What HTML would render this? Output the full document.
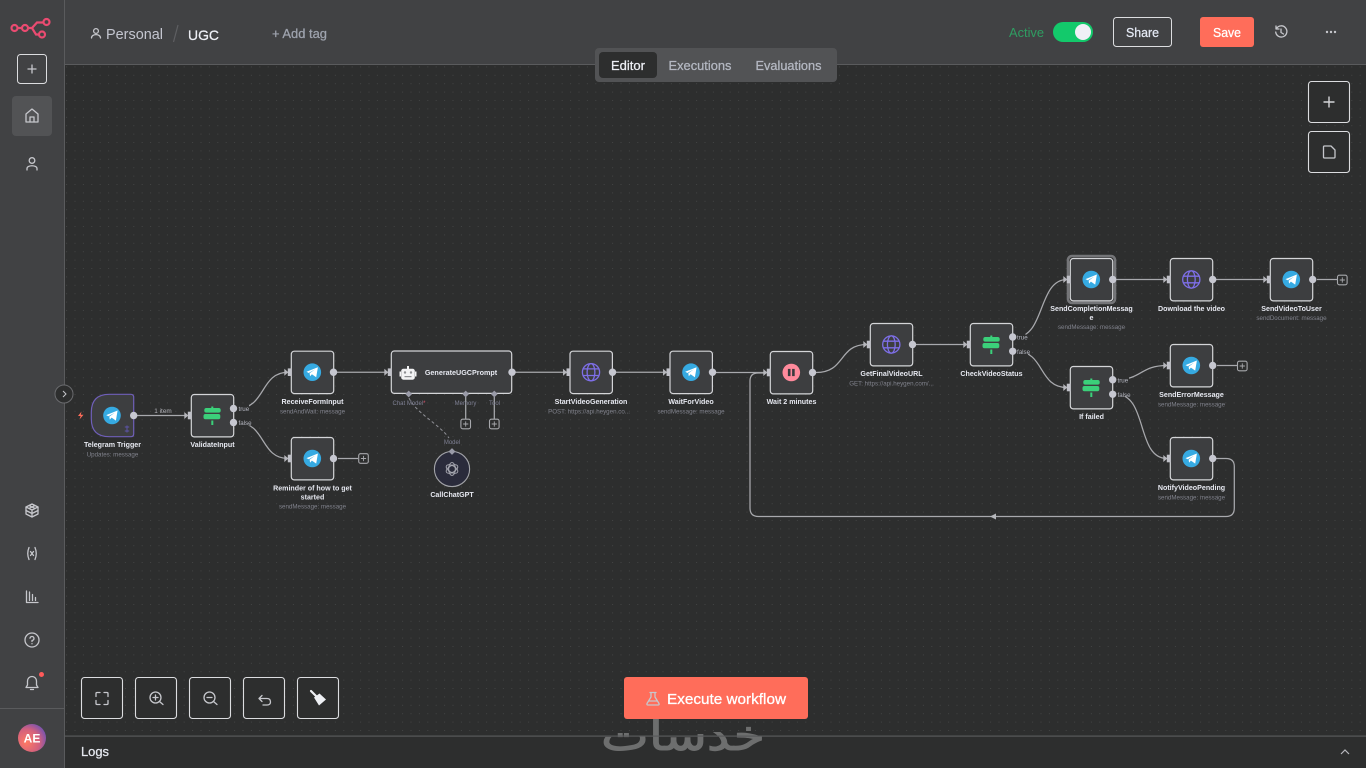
<!DOCTYPE html>
<html lang="en">
<head>
<meta charset="utf-8">
<title>UGC workflow</title>
<style>
html,body{margin:0;padding:0;background:#2d2e2e;width:1366px;height:768px;overflow:hidden}
svg{display:block;font-family:"Liberation Sans",sans-serif}
.t{font-size:7.1px;font-weight:700;fill:#e6e8f0;text-anchor:middle}
.s{font-size:6.2px;fill:#80828c;text-anchor:middle}
.o{font-size:6.2px;fill:#b6b8c2}
.h{font-size:6px;fill:#7f8094;text-anchor:middle}
.c{fill:none;stroke:#a8a9ad;stroke-width:1.25}
.b{fill:#2d2e2e;stroke:#dcdde0;stroke-width:1.1}
.i{fill:none;stroke:#c6c7cc;stroke-width:1.3;stroke-linecap:round;stroke-linejoin:round}
.m{stroke-width:.25}
</style>
</head>
<body>
<svg width="1366" height="768" viewBox="0 0 1366 768" xmlns="http://www.w3.org/2000/svg">
<defs>
<pattern id="dots" x="7.3" y="7.6" width="8.4" height="8.4" patternUnits="userSpaceOnUse"><circle cx="0.5" cy="0.5" r="0.5" fill="#4b4c4c"/></pattern>
<radialGradient id="av" cx="30%" cy="65%" r="85%"><stop offset="0" stop-color="#ff7a62"/><stop offset=".55" stop-color="#d2607e"/><stop offset="1" stop-color="#5a4fc0"/></radialGradient>
<g id="node"><rect x="-21" y="-21" width="42.4" height="42.4" rx="3" fill="#3d3e40" stroke="#d4d5d8" stroke-width="1.2"/></g>
<g id="inp"><path d="M-28 -3.500 L-24 0 L-28 3.500Z" fill="#b5b6bb"/><rect x="-24.500" y="-3.800" width="3.800" height="7.600" fill="#c0c1c8"/></g>
<g id="tg"><circle r="8.8" fill="#36aae2"/><path d="M-5.800 -.4 L5.600 -5 L3.900 5.100 L-.4 2.100 L-2.200 4.100 L-2.700 1.100 L2.900 -2.900 L-3.600 .8Z" fill="#fff"/></g>
<g id="web"><g fill="none" stroke="#7e6fe8" stroke-width="1.3"><circle r="8.6"/><ellipse rx="3.900" ry="8.6"/><path d="M-7.800 -3.300H7.800M-7.800 3.300H7.800"/></g></g>
<g id="sw"><g fill="#3bd07a"><rect x="-8" y="-7.500" width="16.400" height="4.600" rx="2"/><rect x="-8.800" y="-1.500" width="16.800" height="5.200" rx="2"/><rect x="-1" y="-9" width="2" height="2"/><rect x="-1" y="5" width="2" height="4.500"/></g></g>
<g id="plus"><rect x="-4.800" y="-4.800" width="9.600" height="9.600" rx="1.800" fill="#2d2e2e" stroke="#a7a8ac" stroke-width="1.100"/><path d="M-2.600 0H2.600M0 -2.600V2.600" stroke="#a7a8ac" stroke-width=".9"/></g>
<g id="out"><circle r="3.700" fill="#c6c7d0"/></g>
<g id="dia"><path d="M0 -3.400L3.400 0L0 3.400L-3.400 0Z" fill="#9a9ba8"/></g>
</defs>

<!-- canvas -->
<rect width="1366" height="768" fill="#2d2e2e"/>
<rect x="65" y="65" width="1301" height="671" fill="url(#dots)"/>

<!-- connectors -->
<g class="c">
<path d="M137 415.500H187"/>
<path d="M237 408.500C266 408.500 260 372.200 288 372.200"/>
<path d="M237 422.500C266 422.500 260 458.500 288 458.500"/>
<path d="M338 458.500H358"/>
<path d="M337 372.200H388"/>
<path d="M515 372.200H567"/>
<path d="M615 372.200H667"/>
<path d="M715 372.500H767"/>
<path d="M816 372.500C846 372.500 838 344.500 867 344.500"/>
<path d="M916 344.500H967"/>
<path d="M1016 337C1045 337 1038 279.500 1067 279.500"/>
<path d="M1016 351.300C1045 351.300 1038 387.500 1067 387.500"/>
<path d="M1116 279.500H1167"/>
<path d="M1216 279.500H1267"/>
<path d="M1317 279.500H1337"/>
<path d="M1116 379.700C1142 379.700 1140 365.500 1167 365.500"/>
<path d="M1217 365.500H1237"/>
<path d="M1116 394.300C1148 394.300 1136 458.500 1167 458.500"/>
<path d="M1216 458.500H1226Q1234.300 458.500 1234.300 466.500V508Q1234.300 516.500 1226 516.500H758.500Q750 516.500 750 508V381Q750 373 758 373H766"/>
<path d="M465.700 397V419M494.300 397V419"/>
<path d="M409 398C415 412 440 425 449 438" stroke-dasharray="3 2.500" stroke="#8f9096" stroke-width="1"/>
</g>
<path d="M996 513.500L990 516.500L996 519.500Z" fill="#b5b6bb"/>

<!-- Telegram Trigger -->
<path d="M109.300 394.300H130.700Q133.700 394.300 133.700 397.300V433.700Q133.700 436.700 130.700 436.700H109.300Q91.300 436.700 91.300 418.700V412.300Q91.300 394.300 109.300 394.300Z" fill="#3d3e40" stroke="#6f5fb8" stroke-width="1.200"/>
<use href="#tg" x="112" y="415.500"/>
<use href="#out" x="133.700" y="415.500"/>
<path d="M127 425.500V432.500M124.800 427H129.200M124.800 431H129.200" stroke="#5d54a8" stroke-width="1"/>
<path d="M81.500 411.500L78 416H80.600L79.500 419.500L83.500 414.700H80.800Z" fill="#ff6d5a"/>
<text class="t" x="112.500" y="447">Telegram Trigger</text>
<text class="s" x="112.500" y="456.500">Updates: message</text>
<text x="163" y="413" font-size="6.400" fill="#b5b6bc" text-anchor="middle">1 item</text>

<!-- ValidateInput -->
<g transform="translate(212.300,415.500)"><use href="#node"/><use href="#inp"/><use href="#sw"/></g>
<rect x="237" y="405" width="12" height="6.500" fill="#2d2e2e"/><rect x="237" y="419" width="13" height="6.500" fill="#2d2e2e"/>
<use href="#out" x="233.500" y="408.500"/><use href="#out" x="233.500" y="422.500"/>
<text class="o" x="238.500" y="411">true</text><text class="o" x="238.500" y="425">false</text>
<text class="t" x="212.500" y="447">ValidateInput</text>

<!-- ReceiveFormInput -->
<g transform="translate(312.300,372.200)"><use href="#node"/><use href="#inp"/><use href="#tg"/></g>
<use href="#out" x="333.500" y="372.200"/>
<text class="t" x="312.500" y="404">ReceiveFormInput</text>
<text class="s" x="312.500" y="413.500">sendAndWait: message</text>

<!-- Reminder -->
<g transform="translate(312.300,458.500)"><use href="#node"/><use href="#inp"/><use href="#tg"/></g>
<use href="#out" x="333.500" y="458.500"/><use href="#plus" x="363.500" y="458.500"/>
<text class="t" x="312.500" y="490.500">Reminder of how to get</text>
<text class="t" x="312.500" y="499.500">started</text>
<text class="s" x="312.500" y="508.500">sendMessage: message</text>

<!-- GenerateUGCPrompt -->
<rect x="391.300" y="351" width="120.400" height="42.400" rx="3" fill="#3d3e40" stroke="#d4d5d8" stroke-width="1.200"/>
<use href="#inp" x="412.300" y="372.200"/>
<g transform="translate(408,373.500)" fill="#f2f2f4">
<rect x="-6.800" y="-4.800" width="13.600" height="11" rx="2.200"/><rect x="-8.500" y="-2" width="1.500" height="5"/><rect x="7" y="-2" width="1.500" height="5"/><rect x="-1" y="-7.500" width="2" height="3"/>
<circle cx="-3" cy="-1" r="1.200" fill="#8d8e92"/><circle cx="3" cy="-1" r="1.200" fill="#8d8e92"/><rect x="-3.500" y="2.500" width="7" height="1.200" fill="#8d8e92"/>
</g>
<text x="461" y="375" font-size="7.200" font-weight="700" fill="#e6e8f0" text-anchor="middle">GenerateUGCPrompt</text>
<use href="#out" x="512" y="372.200"/>
<use href="#dia" x="408.700" y="394"/><use href="#dia" x="465.700" y="394"/><use href="#dia" x="494.300" y="394"/>
<text class="h" x="409" y="405">Chat Model<tspan fill="#e0566e">*</tspan></text>
<text class="h" x="465.500" y="405">Memory</text>
<text class="h" x="494.500" y="405">Tool</text>
<use href="#plus" x="465.700" y="424"/><use href="#plus" x="494.300" y="424"/>

<!-- CallChatGPT -->
<circle cx="452" cy="469" r="17.600" fill="#2a2b3b" stroke="#a2a3a8" stroke-width="1.100"/>
<g fill="none" stroke="#a8a9b2" stroke-width=".9"><circle cx="452" cy="469" r="3.400"/><ellipse cx="452" cy="469" rx="6.400" ry="3.400" transform="rotate(30 452 469)"/><ellipse cx="452" cy="469" rx="6.400" ry="3.400" transform="rotate(-30 452 469)"/><ellipse cx="452" cy="469" rx="6.400" ry="3.400" transform="rotate(90 452 469)"/></g>
<use href="#dia" x="452" y="451.500"/>
<text class="h" x="452" y="444">Model</text>
<text class="t" x="452" y="497">CallChatGPT</text>

<!-- StartVideoGeneration -->
<g transform="translate(591,372.200)"><use href="#node"/><use href="#inp"/><use href="#web"/></g>
<use href="#out" x="612.500" y="372.200"/>
<text class="t" x="591" y="404">StartVideoGeneration</text>
<text class="s" x="589" y="413.500">POST: https://api.heygen.co...</text>

<!-- WaitForVideo -->
<g transform="translate(691,372.200)"><use href="#node"/><use href="#inp"/><use href="#tg"/></g>
<use href="#out" x="712.500" y="372.200"/>
<text class="t" x="691" y="404">WaitForVideo</text>
<text class="s" x="691" y="413.500">sendMessage: message</text>

<!-- Wait 2 minutes -->
<g transform="translate(791.300,372.500)"><use href="#node"/><use href="#inp"/><circle r="8.800" fill="#ff8a9c"/><rect x="-3.400" y="-3.600" width="2.600" height="7.200" fill="#3a3a3e"/><rect x=".8" y="-3.600" width="2.600" height="7.200" fill="#3a3a3e"/></g>
<use href="#out" x="812.500" y="372.500"/>
<text class="t" x="791.500" y="404">Wait 2 minutes</text>

<!-- GetFinalVideoURL -->
<g transform="translate(891.300,344.500)"><use href="#node"/><use href="#inp"/><use href="#web"/></g>
<use href="#out" x="912.500" y="344.500"/>
<text class="t" x="891.500" y="376">GetFinalVideoURL</text>
<text class="s" x="891.500" y="385.500">GET: https://api.heygen.com/...</text>

<!-- CheckVideoStatus -->
<g transform="translate(991.300,344.500)"><use href="#node"/><use href="#inp"/><use href="#sw"/></g>
<rect x="1016" y="333.500" width="9.500" height="6.500" fill="#2d2e2e"/><rect x="1016" y="348" width="12" height="6.500" fill="#2d2e2e"/>
<use href="#out" x="1012.700" y="337"/><use href="#out" x="1012.700" y="351.300"/>
<text class="o" x="1017" y="339.500">true</text><text class="o" x="1017" y="354">false</text>
<text class="t" x="991.500" y="376">CheckVideoStatus</text>

<!-- SendCompletionMessage -->
<rect x="1068" y="256" width="47" height="47" rx="4" fill="none" stroke="#747578" stroke-width="2.600"/>
<g transform="translate(1091.300,279.500)"><use href="#node"/><use href="#inp"/><use href="#tg"/></g>
<use href="#out" x="1112.700" y="279.500"/>
<text class="t" x="1091.500" y="311">SendCompletionMessag</text>
<text class="t" x="1091.500" y="320">e</text>
<text class="s" x="1091.500" y="329">sendMessage: message</text>

<!-- Download the video -->
<g transform="translate(1191.300,279.500)"><use href="#node"/><use href="#inp"/><use href="#web"/></g>
<use href="#out" x="1212.700" y="279.500"/>
<text class="t" x="1191.500" y="311">Download the video</text>

<!-- SendVideoToUser -->
<g transform="translate(1291.300,279.500)"><use href="#node"/><use href="#inp"/><use href="#tg"/></g>
<use href="#out" x="1312.700" y="279.500"/><use href="#plus" x="1342.300" y="280"/>
<text class="t" x="1291.500" y="311">SendVideoToUser</text>
<text class="s" x="1291.500" y="320">sendDocument: message</text>

<!-- If failed -->
<g transform="translate(1091.300,387.500)"><use href="#node"/><use href="#inp"/><use href="#sw"/></g>
<rect x="1116" y="376.500" width="13" height="6.500" fill="#2d2e2e"/><rect x="1116" y="391" width="9" height="6.500" fill="#2d2e2e"/>
<use href="#out" x="1112.700" y="379.700"/><use href="#out" x="1112.700" y="394.300"/>
<text class="o" x="1117.500" y="382.500">true</text><text class="o" x="1117.500" y="397">false</text>
<text class="t" x="1091.500" y="419">If failed</text>

<!-- SendErrorMessage -->
<g transform="translate(1191.300,365.500)"><use href="#node"/><use href="#inp"/><use href="#tg"/></g>
<use href="#out" x="1212.700" y="365.500"/><use href="#plus" x="1242.300" y="366"/>
<text class="t" x="1191.500" y="397">SendErrorMessage</text>
<text class="s" x="1191.500" y="406.500">sendMessage: message</text>

<!-- NotifyVideoPending -->
<g transform="translate(1191.300,458.500)"><use href="#node"/><use href="#inp"/><use href="#tg"/></g>
<use href="#out" x="1212.700" y="458.500"/>
<text class="t" x="1191.500" y="490">NotifyVideoPending</text>
<text class="s" x="1191.500" y="499.500">sendMessage: message</text>

<!-- header -->
<rect x="65" y="0" width="1301" height="64.500" fill="#414244"/>
<rect x="65" y="64" width="1301" height="1" fill="#5a5b5d"/>
<g class="i" stroke="#b4b5ba" stroke-width="1"><circle cx="96" cy="31" r="2.400"/><path d="M91.500 38C91.500 33.500 100.500 33.500 100.500 38"/></g>
<text x="106" y="39" font-size="14.300" fill="#c4c6d0" textLength="57" lengthAdjust="spacingAndGlyphs">Personal</text>
<path d="M173.500 42L178 25" stroke="#5e5f62" stroke-width="1.200"/>
<text x="188" y="40" font-size="14" fill="#eef0f6" stroke="#eef0f6" class="m" textLength="31" lengthAdjust="spacingAndGlyphs">UGC</text>
<text x="272" y="38" font-size="12.500" fill="#9ea3ae" stroke="#9ea3ae" class="m" textLength="55" lengthAdjust="spacingAndGlyphs">+ Add tag</text>

<rect x="595" y="48" width="242" height="34" rx="4" fill="#525355"/>
<rect x="599" y="52" width="58" height="26" rx="4" fill="#2d2e2e"/>
<text x="611" y="70" font-size="12.500" fill="#eef0f6" stroke="#eef0f6" class="m" textLength="34" lengthAdjust="spacingAndGlyphs">Editor</text>
<text x="668.500" y="70" font-size="12.500" fill="#b4b8c2" stroke="#b4b8c2" class="m" textLength="63" lengthAdjust="spacingAndGlyphs">Executions</text>
<text x="755.500" y="70" font-size="12.500" fill="#b4b8c2" stroke="#b4b8c2" class="m" textLength="66" lengthAdjust="spacingAndGlyphs">Evaluations</text>

<text x="1009" y="37" font-size="12.500" fill="#2f9d62" textLength="35" lengthAdjust="spacingAndGlyphs">Active</text>
<rect x="1053" y="22" width="40" height="20" rx="10" fill="#13c96b"/>
<circle cx="1083" cy="32" r="8" fill="#f0f0f6"/>
<rect x="1113.500" y="17.500" width="58" height="29" rx="3" fill="#414244" stroke="#dcdde0"/>
<text x="1126" y="37" font-size="12.800" fill="#e4e9f4" stroke="#e4e9f4" class="m" textLength="33" lengthAdjust="spacingAndGlyphs">Share</text>
<rect x="1200" y="17" width="54" height="30" rx="3" fill="#ff6d5a"/>
<text x="1213" y="37" font-size="12.800" fill="#fff" stroke="#fff" class="m" textLength="28" lengthAdjust="spacingAndGlyphs">Save</text>
<g class="i" stroke="#a9aaae" stroke-width="1.100"><path d="M1276.500 28.500A5.600 5.600 0 1 1 1275.700 32M1276 26V29H1279M1281 29V32.500L1283.500 34"/></g>
<g fill="#c6c7cc"><circle cx="1327" cy="32" r="1.200"/><circle cx="1331" cy="32" r="1.200"/><circle cx="1335" cy="32" r="1.200"/></g>

<!-- sidebar -->
<rect x="0" y="0" width="64" height="768" fill="#414244"/>
<rect x="64" y="0" width="1" height="768" fill="#5a5b5d"/>
<g fill="none" stroke="#ea4b71" stroke-width="2.200">
<circle cx="14.500" cy="28" r="3"/><circle cx="25" cy="28" r="3"/><circle cx="46.500" cy="22" r="3"/><circle cx="42" cy="34.500" r="3"/>
<path d="M17.500 28H22M28 28H32L37 22.500H43.500M32 28L36 34.500H39"/>
</g>
<rect x="17.500" y="54.500" width="29" height="29" rx="3" fill="#414244" stroke="#dcdde0"/>
<path d="M27.500 69H36.500M32 64.500V73.500" stroke="#c6c7cc" stroke-width="1.300"/>
<rect x="12" y="96" width="40" height="40" rx="4" fill="#525355"/>
<g class="i" stroke="#e4e5e8" stroke-width="1.500">
<path d="M26 122V114L32 109L38 114V122Z"/><path d="M30 122V117H34V122"/>
<circle cx="32" cy="160.500" r="2.800"/><path d="M27 170V168.500C27 164.800 37 164.800 37 168.500V170"/>
</g>
<!-- bottom sidebar icons -->
<g class="i" stroke-width="1.100">
<path d="M26 507L32 504L38 507L38 514L32 517L26 514Z"/><path d="M26 507L32 510L38 507M32 510V517M29 505.500L35 508.500M35 505.500L29 508.500M26 510.500L32 513.500L38 510.500"/>
<path d="M29 547.500Q26.500 553.500 29 559.500M35 547.500Q37.500 553.500 35 559.500M30.500 551.500L33.500 555.500M33.500 551.500L30.500 555.500"/>
<path d="M26.500 591V602.500H38M29.500 592V600.500M32.500 594.500V600.500M35.500 597.500V600.500"/>
<circle cx="32" cy="640" r="7"/><path d="M30 638.200A2 2 0 1 1 32 640.500V641.500M32 643.700V643.800"/>
<path d="M26 687.500H38L36.500 685V681A4.500 4.500 0 0 0 27.500 681V685ZM30.500 689.500H33.500"/>
</g>
<circle cx="41.500" cy="674.500" r="2.500" fill="#ff5a5a"/>
<rect x="0" y="708" width="64" height="1" fill="#5a5b5d"/>
<circle cx="32" cy="738" r="14" fill="url(#av)"/>
<text x="32" y="742.500" font-size="12" font-weight="700" fill="#fff" text-anchor="middle">AE</text>
<circle cx="64" cy="394" r="9" fill="#2d2e2e" stroke="#6a6b6e"/>
<path d="M63 391L66 394L63 397" fill="none" stroke="#c6c7cc" stroke-width="1"/>

<!-- right canvas buttons -->
<rect x="1308.500" y="81.500" width="41" height="41" rx="3" class="b"/>
<path d="M1323.500 102H1334.500M1329 96.500V107.500" stroke="#d4d5d8" stroke-width="1.400"/>
<rect x="1308.500" y="131.500" width="41" height="41" rx="3" class="b"/>
<path class="i" stroke-width="1.600" d="M1323.500 147Q1323.500 146 1324.500 146H1331L1335 150V157Q1335 158 1334 158H1324.500Q1323.500 158 1323.500 157Z"/>

<!-- bottom canvas buttons -->
<rect x="81.500" y="677.500" width="41" height="41" rx="3" class="b"/>
<rect x="135.500" y="677.500" width="41" height="41" rx="3" class="b"/>
<rect x="189.500" y="677.500" width="41" height="41" rx="3" class="b"/>
<rect x="243.500" y="677.500" width="41" height="41" rx="3" class="b"/>
<rect x="297.500" y="677.500" width="41" height="41" rx="3" class="b"/>
<g class="i" stroke="#d8d9dc">
<path d="M96 696.500V693.500Q96 692.500 97 692.500H100M104 692.500H107Q108 692.500 108 693.500V696.500M108 700.500V703.500Q108 704.500 107 704.500H104M100 704.500H97Q96 704.500 96 703.500V700.500"/>
<circle cx="155.500" cy="697.500" r="5.500"/><path d="M159.500 701.500L163 704.500M153 697.500H158M155.500 695V700"/>
<circle cx="209.500" cy="697.500" r="5.500"/><path d="M213.500 701.500L217 704.500M207 697.500H212"/>
<path d="M262 695.500L259 698.500H267Q270.500 698.500 270.500 702Q270.500 705 267 705H263M262 695.500L259 698.500L262 701.500"/>
</g>
<path d="M311 691L317 697" stroke="#eef0f4" stroke-width="2.200" stroke-linecap="round"/>
<path d="M314 697.500L319.500 693.500L326 699.500L319 705.500Z" fill="#eef0f4"/>

<!-- watermark -->
<text x="683" y="750" font-size="42" fill="#6d6e6e" stroke="#6d6e6e" stroke-width="1" text-anchor="middle" textLength="164" lengthAdjust="spacingAndGlyphs" font-family="'DejaVu Sans',sans-serif" direction="rtl">خدسات</text>

<!-- logs -->
<rect x="65" y="735.500" width="1301" height="1.200" fill="#58595b"/>
<text x="81" y="756" font-size="12.800" fill="#e6e9f0" stroke="#e6e9f0" class="m" textLength="28" lengthAdjust="spacingAndGlyphs">Logs</text>
<path d="M1341 754L1345 750L1349 754" fill="none" stroke="#b8b9be" stroke-width="1.200"/>

<!-- execute -->
<rect x="624" y="677" width="184" height="42" rx="3" fill="#ff6d5a"/>
<path class="i" stroke="#fff" stroke-width="1.300" d="M650 692.500H656M651 692.500V697L647 703.500Q646.500 705 648 705H658Q659.500 705 659 703.500L655 697V692.500M648.500 701H657.500"/>
<text x="667" y="704" font-size="15" fill="#fff" stroke="#fff" stroke-width=".3" textLength="119" lengthAdjust="spacingAndGlyphs">Execute workflow</text>
</svg>
</body>
</html>
